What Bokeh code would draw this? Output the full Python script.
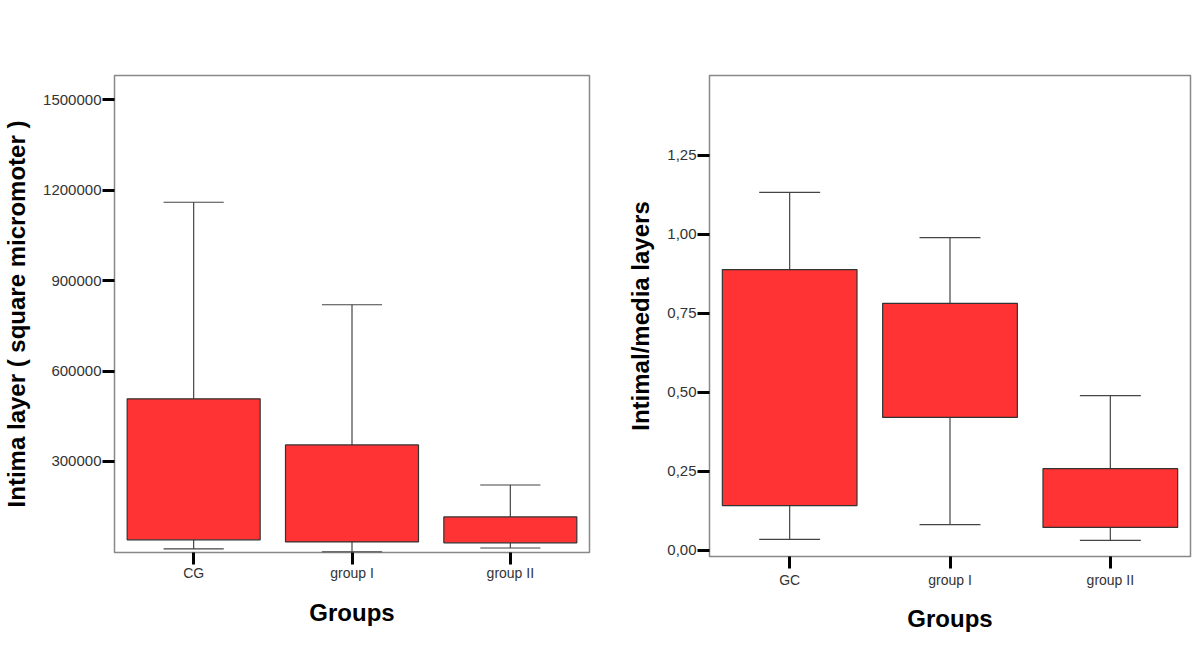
from bokeh.plotting import figure
from bokeh.models import FactorRange, Range1d, FixedTicker, ColumnDataSource
from bokeh.transform import dodge
from bokeh.layouts import row
from bokeh.embed import file_html
from bokeh.resources import INLINE

# ---- data: left panel ----
left_groups = ["CG", "group I", "group II"]
left_q1 = [40000, 33000, 30000]
left_q3 = [508000, 355000, 116000]
left_low = [10000, 0, 13000]
left_high = [1160000, 820000, 222000]
left_ticks = [300000, 600000, 900000, 1200000, 1500000]
left_tick_labels = ["300000", "600000", "900000", "1200000", "1500000"]
left_ylabel = "Intima layer ( square micromoter )"

# ---- data: right panel ----
right_groups = ["GC", "group I", "group II"]
right_q1 = [0.142, 0.421, 0.073]
right_q3 = [0.889, 0.782, 0.259]
right_low = [0.035, 0.082, 0.032]
right_high = [1.133, 0.990, 0.490]
right_ticks = [0.0, 0.25, 0.5, 0.75, 1.0, 1.25]
right_tick_labels = ["0,00", "0,25", "0,50", "0,75", "1,00", "1,25"]
right_ylabel = "Intimal/media layers"

xlabel = "Groups"

BOX_FILL = "#FF3333"
FONT = "Liberation Sans"


def make_panel(groups, q1, q3, low, high, ticks, tick_labels, ylabel,
               y_start, y_end, fw, fh, bl, br, bt, bb,
               ylab_standoff, ymaj_standoff, xmaj_standoff, xlab_standoff):
    p = figure(x_range=FactorRange(factors=groups, range_padding=0),
               y_range=Range1d(y_start, y_end),
               frame_width=fw, frame_height=fh,
               min_border_left=bl, min_border_right=br,
               min_border_top=bt, min_border_bottom=bb,
               output_backend="svg", toolbar_location=None)
    src = ColumnDataSource(dict(g=groups, q1=q1, q3=q3, low=low, high=high))
    wcol = "#444444"
    p.segment(x0="g", y0="q3", x1="g", y1="high", source=src,
              line_color=wcol, line_width=1.2)
    p.segment(x0="g", y0="q1", x1="g", y1="low", source=src,
              line_color=wcol, line_width=1.2)
    p.segment(x0=dodge("g", -0.19, range=p.x_range), y0="high",
              x1=dodge("g", 0.19, range=p.x_range), y1="high", source=src,
              line_color=wcol, line_width=1.2)
    p.segment(x0=dodge("g", -0.19, range=p.x_range), y0="low",
              x1=dodge("g", 0.19, range=p.x_range), y1="low", source=src,
              line_color=wcol, line_width=1.2)
    p.vbar(x="g", top="q3", bottom="q1", width=0.84, source=src,
           fill_color=BOX_FILL, line_color="#333333", line_width=1.2)

    p.xgrid.grid_line_color = None
    p.ygrid.grid_line_color = None
    p.outline_line_color = "#888888"
    p.outline_line_width = 1.5
    p.background_fill_color = "white"
    p.border_fill_color = "white"

    for ax in (p.xaxis[0], p.yaxis[0]):
        ax.axis_line_color = None
        ax.major_tick_in = 0
        ax.major_tick_out = 12
        ax.major_tick_line_width = 3
        ax.major_tick_line_color = "black"
        ax.minor_tick_line_color = None
        ax.major_label_text_font = FONT
        ax.major_label_text_color = "#333333"
        ax.axis_label_text_font = FONT
        ax.axis_label_text_font_style = "bold"
        ax.axis_label_text_font_size = "24px"
        ax.axis_label_text_color = "black"
    p.xaxis.major_label_text_font_size = "14px"
    p.yaxis.major_label_text_font_size = "15px"

    p.yaxis.ticker = FixedTicker(ticks=ticks)
    p.yaxis.major_label_overrides = {t: l for t, l in zip(ticks, tick_labels)}
    p.yaxis.axis_label = ylabel
    p.yaxis.axis_label_standoff = ylab_standoff
    p.yaxis.major_label_standoff = ymaj_standoff
    p.xaxis.axis_label = xlabel
    p.xaxis.axis_label_standoff = xlab_standoff
    p.xaxis.major_label_standoff = xmaj_standoff
    return p


p1 = make_panel(left_groups, left_q1, left_q3, left_low, left_high,
                left_ticks, left_tick_labels, left_ylabel,
                -2000, 1580600, 475, 477, 106, 35, 74, 82,
                10, 1, 0, 15)
p2 = make_panel(right_groups, right_q1, right_q3, right_low, right_high,
                right_ticks, right_tick_labels, right_ylabel,
                -0.019, 1.503, 481, 481, 85, 2, 75, 78,
                10, 1, 3, 14)

layout = row(p1, p2)
open("out.html", "w").write(file_html(layout, INLINE))
